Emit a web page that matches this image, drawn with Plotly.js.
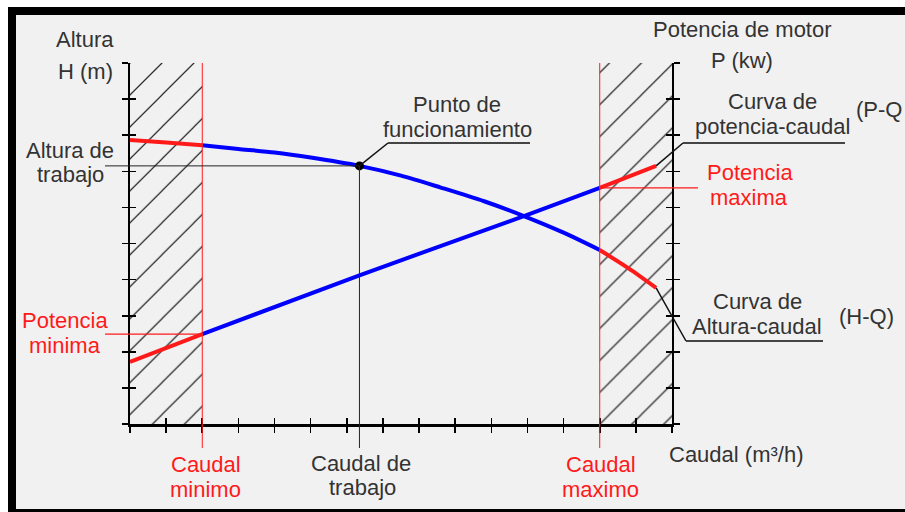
<!DOCTYPE html>
<html>
<head>
<meta charset="utf-8">
<script src="https://cdn.plot.ly/plotly-3.0.1.min.js"></script>
<style>html,body{margin:0;padding:0;background:#fff;}#chart{width:905px;height:512px;}</style>
</head>
<body>
<div id="chart"></div>
<script>
// ---- data (axis units = tick intervals) ----
const qRange = [0, 15];          // caudal axis (ticks every 1)
const hRange = [0, 10];          // height / power axes (ticks every 1)
const caudalMinimo = 2;
const caudalMaximo = 13;
const caudalTrabajo = 6.35;
const alturaTrabajo = 7.15;
// H-Q curve
const hqQ = [0, 1, 2, 3, 4, 5, 6.35, 7.5, 8.6, 9.8, 10.9, 12, 13, 13.8, 14.56];
const hqH = [7.87, 7.80, 7.72, 7.62, 7.52, 7.38, 7.15, 6.88, 6.55, 6.17, 5.76, 5.30, 4.82, 4.31, 3.77];
// P-Q curve
const pqQ = [0, 2, 6.35, 10.9, 13, 14.56];
const pqP = [1.72, 2.49, 4.12, 5.76, 6.54, 7.15];
// hatched (forbidden) zones
const zoneLowQ = [0, caudalMinimo];
const zoneHighQ = [caudalMaximo, 15];

// ---- layout geometry (pixels) ----
const L = 130, R = 672, T = 63, B = 424;
const px = v => (v - L) / (R - L);
const py = v => (B - v) / (B - T);
const dq = q => (q - qRange[0]) / (qRange[1] - qRange[0]);
const dh = h => (h - hRange[0]) / (hRange[1] - hRange[0]);

function seg(xs, ys, lo, hi) {
  const x = [], y = [];
  xs.forEach((v, i) => { if (v >= lo - 1e-9 && v <= hi + 1e-9) { x.push(v); y.push(ys[i]); } });
  return {x, y};
}
const RED = '#ff1a1a', BLUE = '#0000ff', TXT = '#333333';

function rectTrace(q) {
  return {x: [q[0], q[1], q[1], q[0], q[0]], y: [hRange[0], hRange[0], hRange[1], hRange[1], hRange[0]],
    mode: 'lines', fill: 'toself', line: {width: 0}, fillcolor: 'rgba(0,0,0,0)',
    fillpattern: {shape: '/', size: 22.6, solidity: 0.055, fgcolor: '#2a2a2a', bgcolor: 'rgba(0,0,0,0)'},
    hoverinfo: 'skip', showlegend: false};
}

const hqRedL = seg(hqQ, hqH, 0, caudalMinimo);
const hqBlue = seg(hqQ, hqH, caudalMinimo, caudalMaximo);
const hqRedR = seg(hqQ, hqH, caudalMaximo, 20);
const pqRedL = seg(pqQ, pqP, 0, caudalMinimo);
const pqBlue = seg(pqQ, pqP, caudalMinimo, caudalMaximo);
const pqRedR = seg(pqQ, pqP, caudalMaximo, 20);

const lineT = (s, c, shape) => ({x: s.x, y: s.y, mode: 'lines', line: {color: c, width: 4, shape: shape || 'linear', smoothing: 0.8}, hoverinfo: 'skip', showlegend: false});

const traces = [
  rectTrace(zoneLowQ), rectTrace(zoneHighQ),
  lineT(hqBlue, BLUE, 'spline'), lineT(hqRedL, RED, 'spline'), lineT(hqRedR, RED, 'spline'),
  lineT(pqBlue, BLUE), lineT(pqRedL, RED), lineT(pqRedR, RED),
  {x: [caudalTrabajo], y: [alturaTrabajo], mode: 'markers', marker: {color: '#000', size: 9}, hoverinfo: 'skip', showlegend: false},
  {x: [null], y: [null], xaxis: 'x2', yaxis: 'y', showlegend: false},
  {x: [null], y: [null], xaxis: 'x', yaxis: 'y2', showlegend: false},
  {x: [null], y: [null], xaxis: 'x', yaxis: 'y3', showlegend: false},
  {x: [null], y: [null], xaxis: 'x', yaxis: 'y4', showlegend: false}
];

const last = a => a[a.length - 1];
const pMin = last(pqRedL.y), pMax = last(pqBlue.y);
const hqEnd = {q: last(hqQ), v: last(hqH)}, pqEnd = {q: last(pqQ), v: last(pqP)};

function ln(x0, y0, x1, y1, color, width, layer) {
  return {type: 'line', xref: 'paper', yref: 'paper', x0, y0, x1, y1, line: {color, width}, layer: layer || 'above'};
}
const shapes = [
  // frame
  {type: 'rect', xref: 'paper', yref: 'paper', x0: px(8), x1: px(910), y0: py(520), y1: py(7), fillcolor: '#000', line: {width: 0}, layer: 'below'},
  {type: 'rect', xref: 'paper', yref: 'paper', x0: px(16), x1: px(910), y0: py(509), y1: py(15), fillcolor: '#f1f1f1', line: {width: 0}, layer: 'below'},
  // limits
  ln(dq(caudalMinimo), dh(hRange[1]), dq(caudalMinimo), py(448), RED, 1),
  ln(dq(caudalMaximo), dh(hRange[1]), dq(caudalMaximo), py(448), RED, 1),
  ln(px(105), dh(pMin), dq(caudalMinimo), dh(pMin), RED, 1.3),
  ln(dq(caudalMaximo), dh(pMax), px(698), dh(pMax), RED, 1.3),
  // working point
  ln(px(105), dh(alturaTrabajo), dq(caudalTrabajo), dh(alturaTrabajo), '#222', 1),
  ln(dq(caudalTrabajo), dh(alturaTrabajo), dq(caudalTrabajo), py(448), '#222', 1),
  // leaders
  ln(dq(caudalTrabajo), dh(alturaTrabajo), px(388), py(143), '#111', 1.5),
  ln(px(388), py(143), px(530), py(143), '#444', 2),
  ln(dq(pqEnd.q), dh(pqEnd.v), px(683), py(143), '#111', 1.5),
  ln(px(683), py(143), px(845), py(143), '#444', 2),
  ln(dq(hqEnd.q), dh(hqEnd.v), px(686), py(341), '#111', 1.5),
  ln(px(686), py(341), px(823), py(341), '#444', 2)
];

const FS = 22;
const FONT = 'Liberation Sans, Arial, sans-serif';
const labels = [
  ['Altura', 85, 47, TXT], ['H (m)', 85, 79, TXT],
  ['Altura de', 70, 158, TXT], ['trabajo', 70, 182, TXT],
  ['Potencia', 65, 328, RED], ['minima', 65, 353, RED],
  ['Caudal', 206, 472, RED], ['minimo', 205, 497, RED],
  ['Caudal de', 361, 471, TXT], ['trabajo', 362, 495, TXT],
  ['Caudal', 601, 472, RED], ['maximo', 600, 497, RED],
  ['Caudal (m³/h)', 736, 462, TXT],
  ['Punto de', 457, 112, TXT], ['funcionamiento', 457, 137, TXT],
  ['Potencia de motor', 742, 37, TXT], ['P (kw)', 742, 68, TXT],
  ['Curva de', 772, 109, TXT], ['potencia-caudal', 772, 134, TXT],
  ['Potencia', 750, 180, RED], ['maxima', 749, 205, RED],
  ['Curva de', 757, 309, TXT], ['Altura-caudal', 757, 334, TXT],
  ['(H-Q)', 866, 324, TXT]
];
const annotations = labels.map(([t, x, b, c]) => ({
  text: t, xref: 'paper', yref: 'paper', x: px(x), y: py(b - 0.35 * FS), xanchor: 'center', yanchor: 'middle',
  showarrow: false, font: {family: FONT, size: FS, color: c}
}));
annotations.push({text: '(P-Q', xref: 'paper', yref: 'paper', x: px(904), y: py(117 - 0.35 * FS), xanchor: 'right', yanchor: 'middle',
  showarrow: false, font: {family: FONT, size: FS, color: TXT}});

const axBase = {showgrid: false, zeroline: false, showticklabels: false, tickcolor: '#000', tickwidth: 1.6, ticklen: 6, dtick: 1, tick0: 0, fixedrange: true};
const layout = {
  width: 905, height: 512,
  margin: {l: L, r: 905 - R, t: T, b: 512 - B, pad: 0},
  paper_bgcolor: '#ffffff', plot_bgcolor: 'rgba(0,0,0,0)',
  showlegend: false,
  xaxis: Object.assign({}, axBase, {range: qRange, ticks: 'outside', showline: true, linecolor: '#000', linewidth: 2.5}),
  xaxis2: Object.assign({}, axBase, {range: qRange, overlaying: 'x', anchor: 'y', side: 'bottom', ticks: 'inside', showline: false}),
  yaxis: Object.assign({}, axBase, {range: hRange, ticks: 'outside', showline: true, linecolor: '#000', linewidth: 2.5}),
  yaxis2: Object.assign({}, axBase, {range: hRange, overlaying: 'y', anchor: 'x', side: 'right', ticks: 'outside', showline: true, linecolor: '#000', linewidth: 2}),
  yaxis3: Object.assign({}, axBase, {range: hRange, overlaying: 'y', anchor: 'x', side: 'left', ticks: 'inside', showline: false}),
  yaxis4: Object.assign({}, axBase, {range: hRange, overlaying: 'y', anchor: 'x', side: 'right', ticks: 'inside', showline: false}),
  shapes, annotations
};
Plotly.newPlot('chart', traces, layout, {staticPlot: true, displayModeBar: false});
</script>
</body>
</html>
